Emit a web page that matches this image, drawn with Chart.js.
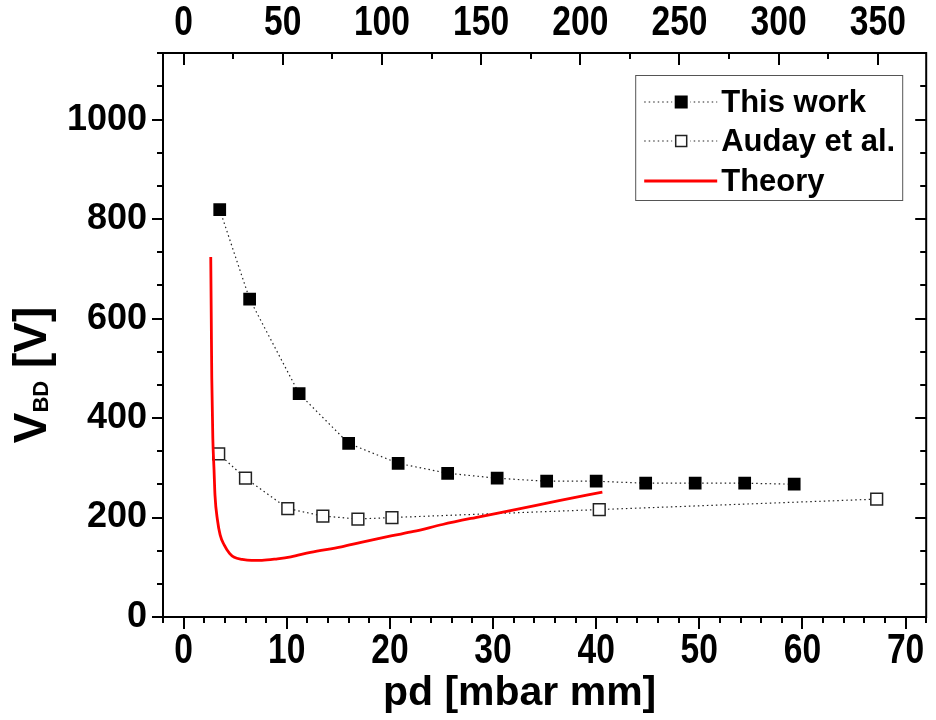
<!DOCTYPE html>
<html>
<head>
<meta charset="utf-8">
<script src="https://cdn.jsdelivr.net/npm/chart.js@4.4.0/dist/chart.umd.min.js"></script>
<style>
  html, body { margin: 0; padding: 0; background: #fff; }
  #wrap { width: 936px; height: 720px; }
</style>
</head>
<body>
<div id="wrap"><canvas id="chart"></canvas></div>
<script>
// Breakdown voltage vs pd
const thisWorkX = [3.5, 6.4, 11.2, 16.0, 20.8, 25.6, 30.4, 35.2, 40.0, 44.8, 49.6, 54.4, 59.2];
const thisWorkY = [819, 639, 449, 349, 309, 289, 279, 273, 273, 269, 269, 269, 267];

const audayX = [3.4, 6.0, 10.1, 13.5, 16.9, 20.2, 40.3, 67.2];
const audayY = [328, 279, 218, 203, 197, 200, 216, 237];

const theoryX = [2.63, 2.68, 2.73, 2.83, 2.95, 3.04, 3.28, 3.54, 3.93, 4.45, 4.91, 5.67, 6.58, 7.59, 9.1, 10.4, 12.3, 15.3, 17.2, 20.1, 22.3, 25.1, 28.3, 32.4, 36.4, 40.6];
const theoryY = [724, 600, 480, 360, 295, 245, 195, 165, 145, 128, 120, 116, 114, 114, 117, 121, 130, 141, 150, 163, 172, 186, 200, 217, 234, 251];

const xTicks = [0, 10, 20, 30, 40, 50, 60, 70];
const topTicks = [0, 50, 100, 150, 200, 250, 300, 350];
const yTicks = [0, 200, 400, 600, 800, 1000];

const seriesLabels = ['This work', 'Auday et al.', 'Theory'];

const X_MIN = -2, X_MAX = 72;
const TOP_RATIO = 5.2;          // top axis = bottom axis * ratio
const Y_MIN = 0, Y_MAX = 1134;

const FAMILY = "'Liberation Sans', Arial, sans-serif";
const yTickFont = { family: FAMILY, size: 36, weight: 'bold' };

function pts(xs, ys) {
    return xs.map((x, i) => ({ x: x, y: ys[i] }));
}

// frame with inward/outward ticks, drawn from the scales
const framePlugin = {
    id: 'frame',
    afterDraw(chart) {
        const { ctx, chartArea: a, scales } = chart;
        ctx.save();
        ctx.strokeStyle = '#000';
        ctx.lineWidth = 2;
        ctx.setLineDash([]);
        ctx.strokeRect(a.left, a.top, a.right - a.left, a.bottom - a.top);

        const tick = (x1, y1, x2, y2) => {
            ctx.beginPath();
            ctx.moveTo(x1, y1);
            ctx.lineTo(x2, y2);
            ctx.stroke();
        };

        // bottom, outward
        for (let v = X_MIN; v <= X_MAX + 0.001; v += 2) {
            const px = Math.round(scales.x.getPixelForValue(v));
            const len = Math.abs(v % 10) < 0.001 ? 12 : 6;
            tick(px, a.bottom, px, a.bottom + len);
        }
        // top, inward
        for (let v = 0; v <= scales.x2.max; v += 25) {
            const px = Math.round(scales.x2.getPixelForValue(v));
            const len = v % 50 === 0 ? 12 : 6;
            tick(px, a.top, px, a.top + len);
        }
        // left outward, right inward
        for (let i = 0; ; i++) {
            const v = i * 200 / 3;
            if (v > Y_MAX) break;
            const py = Math.round(scales.y.getPixelForValue(v));
            const len = i % 3 === 0 ? 11 : 6;
            tick(a.left, py, a.left - len, py);
            tick(a.right, py, a.right - len, py);
        }
        ctx.restore();
    }
};

// condensed tick labels for the two horizontal axes
const xLabelPlugin = {
    id: 'xLabels',
    afterDraw(chart) {
        const { ctx, chartArea: a, scales } = chart;
        ctx.save();
        ctx.fillStyle = '#000';
        ctx.font = "bold 42px " + FAMILY;
        ctx.textAlign = 'center';
        ctx.textBaseline = 'alphabetic';
        const put = (scale, baseY) => {
            scale.ticks.forEach(t => {
                const px = scale.getPixelForValue(t.value);
                ctx.save();
                ctx.translate(px, baseY);
                ctx.scale(0.8, 1);
                ctx.fillText(String(t.value), 0, 0);
                ctx.restore();
            });
        };
        put(scales.x, a.bottom + 46);
        put(scales.x2, a.top - 18);
        ctx.restore();
    }
};

// axis titles (y one has a subscript)
const titlePlugin = {
    id: 'titles',
    afterDraw(chart) {
        const { ctx, chartArea: a } = chart;
        const big = "bold 46px " + FAMILY;
        const small = "bold 22px " + FAMILY;
        ctx.save();
        ctx.fillStyle = '#000';
        ctx.textBaseline = 'alphabetic';

        ctx.font = "bold 41px " + FAMILY;
        ctx.textAlign = 'center';
        ctx.fillText('pd [mbar mm]', (a.left + a.right) / 2 - 25, 705);

        ctx.textAlign = 'left';
        ctx.font = big;
        const w1 = ctx.measureText('V').width;
        const w3 = ctx.measureText(' [V]').width;
        ctx.font = small;
        const w2 = ctx.measureText('BD').width;
        const total = w1 + w2 + w3;
        ctx.translate(46, (a.top + a.bottom) / 2 + 40);
        ctx.rotate(-Math.PI / 2);
        let x = -total / 2;
        ctx.font = big;
        ctx.fillText('V', x, 0);
        x += w1;
        ctx.font = small;
        ctx.fillText('BD', x, 2);
        x += w2;
        ctx.font = big;
        ctx.fillText(' [V]', x, 0);
        ctx.restore();
    }
};

// legend box in the upper right
const legendPlugin = {
    id: 'legendBox',
    afterDraw(chart) {
        const { ctx, chartArea: a } = chart;
        const right = a.right - 24, top = a.top + 22;
        const left = right - 267, bottom = top + 125;
        ctx.save();
        ctx.strokeStyle = '#555';
        ctx.lineWidth = 1;
        ctx.strokeRect(left + 0.5, top + 0.5, right - left, bottom - top);

        const rows = [top + 27, top + 66, top + 106];
        chart.data.datasets.forEach((ds, i) => {
            const y = rows[i];
            const x1 = left + 9, x2 = left + 82, xm = left + 46;
            ctx.beginPath();
            ctx.strokeStyle = ds.borderColor;
            ctx.lineWidth = ds.borderWidth;
            ctx.setLineDash(ds.borderDash || []);
            ctx.moveTo(x1, y);
            ctx.lineTo(x2, y);
            ctx.stroke();
            ctx.setLineDash([]);
            if (ds.pointRadius > 0) {
                ctx.fillStyle = '#fff';
                ctx.fillRect(xm - 9, y - 8, 18, 16);
                ctx.fillStyle = ds.pointBackgroundColor;
                ctx.fillRect(xm - 6.5, y - 6.5, 13, 13);
                if (ds.pointBorderWidth) {
                    ctx.strokeStyle = ds.pointBorderColor;
                    ctx.lineWidth = 1.5;
                    ctx.strokeRect(xm - 5.5, y - 5.5, 11, 11);
                }
            }
            ctx.fillStyle = '#000';
            ctx.font = "bold 31px " + FAMILY;
            ctx.textBaseline = 'middle';
            ctx.fillText(ds.label, left + 86, y + 1);
        });
        ctx.restore();
    }
};

new Chart(document.getElementById('chart'), {
    type: 'scatter',
    data: {
        datasets: [
            {
                label: seriesLabels[0],
                data: pts(thisWorkX, thisWorkY),
                showLine: true,
                borderColor: '#222',
                borderWidth: 1.2,
                borderDash: [1.5, 3],
                pointStyle: 'rect',
                pointRadius: 9,
                pointBackgroundColor: '#000',
                pointBorderColor: '#000',
                pointBorderWidth: 0,
                order: 1
            },
            {
                label: seriesLabels[1],
                data: pts(audayX, audayY),
                showLine: true,
                borderColor: '#222',
                borderWidth: 1.2,
                borderDash: [1.5, 3],
                pointStyle: 'rect',
                pointRadius: 8.3,
                pointBackgroundColor: '#fff',
                pointBorderColor: '#222',
                pointBorderWidth: 1.5,
                order: 3
            },
            {
                label: seriesLabels[2],
                data: pts(theoryX, theoryY),
                showLine: true,
                borderColor: '#ff0000',
                borderWidth: 2.8,
                pointRadius: 0,
                cubicInterpolationMode: 'monotone',
                order: 2
            }
        ]
    },
    options: {
        responsive: true,
        maintainAspectRatio: false,
        animation: false,
        layout: { padding: { left: 0, right: 5, top: 0, bottom: 0 } },
        plugins: {
            legend: { display: false },
            tooltip: { enabled: false }
        },
        scales: {
            x: {
                type: 'linear',
                position: 'bottom',
                min: X_MIN,
                max: X_MAX,
                grid: { display: false, drawTicks: false },
                border: { display: false },
                ticks: { display: false },
                afterBuildTicks: s => { s.ticks = xTicks.map(v => ({ value: v })); },
                afterFit: s => { s.height = 103; }
            },
            x2: {
                type: 'linear',
                position: 'top',
                min: X_MIN * TOP_RATIO,
                max: X_MAX * TOP_RATIO,
                grid: { display: false, drawTicks: false },
                border: { display: false },
                ticks: { display: false },
                afterBuildTicks: s => { s.ticks = topTicks.map(v => ({ value: v })); },
                afterFit: s => { s.height = 53; }
            },
            y: {
                type: 'linear',
                position: 'left',
                min: Y_MIN,
                max: Y_MAX,
                grid: { display: false, drawTicks: false },
                border: { display: false },
                ticks: { font: yTickFont, color: '#000', padding: 16, callback: v => String(v) },
                afterBuildTicks: s => { s.ticks = yTicks.map(v => ({ value: v })); },
                afterFit: s => { s.width = 163; }
            }
        }
    },
    plugins: [framePlugin, xLabelPlugin, titlePlugin, legendPlugin]
});
</script>
</body>
</html>
